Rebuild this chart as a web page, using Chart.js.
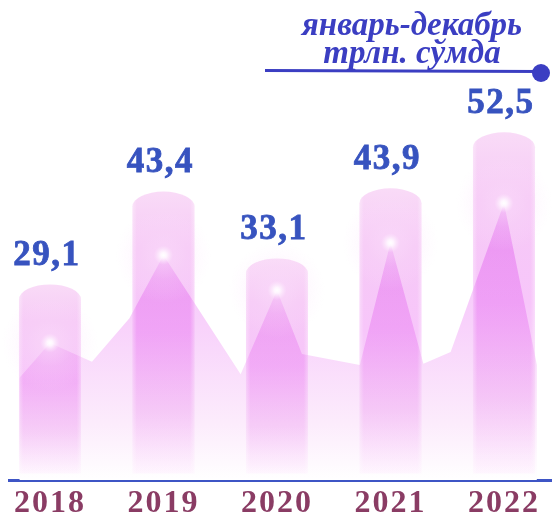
<!DOCTYPE html>
<html>
<head>
<meta charset="utf-8">
<script src="https://cdn.jsdelivr.net/npm/chart.js@4.4.1/dist/chart.umd.min.js"></script>
<style>
  html, body { margin: 0; padding: 0; background: #fff; }
</style>
</head>
<body>
<canvas id="c" width="552" height="515"></canvas>
<script>
// data
var years = ['2018', '2019', '2020', '2021', '2022'];
var values = [29.1, 43.4, 33.1, 43.9, 52.5];
// pink "mountain" behind the bars: x in bar-index units, y in value units
var ridgeX = [-0.27, 0, 0.37, 0.70, 1, 1.68, 2, 2.22, 2.73, 3, 3.29, 3.53, 4, 4.29];
var ridgeY = [14.7, 20.1, 17.2, 23.9, 33.6, 15.3, 28.2, 18.4, 16.7, 35.5, 16.9, 18.7, 41.6, 16.7];
var titleLines = ['январь-декабрь', 'трлн. сўмда'];

function fmt(v) { return v.toFixed(1).replace('.', ','); }

// mountain fill
function ridgeFill(c) {
  var a = c.chart.chartArea;
  if (!a) return 'rgba(0,0,0,0)';
  var g = c.chart.ctx.createLinearGradient(0, 200, 0, a.bottom);
  g.addColorStop(0, '#f3bcfa');
  g.addColorStop(0.45, '#f8d2fb');
  g.addColorStop(0.8, '#fcecfc');
  g.addColorStop(1, '#ffffff');
  return g;
}

// cylinder bars, drawn from the bar elements
var cylinders = {
  id: 'cylinders',
  afterDatasetDraw: function(chart, args) {
    if (args.index !== 1) return;
    var ctx = chart.ctx;
    var meta = chart.getDatasetMeta(1);
    ctx.save();
    meta.data.forEach(function(el) {
      var p = el.getProps(['x', 'y', 'base', 'width'], true);
      var hw = p.width / 2, cap = 15;
      var l = p.x - hw, r = p.x + hw;
      ctx.beginPath();
      ctx.moveTo(l, p.base);
      ctx.lineTo(l, p.y + cap);
      ctx.ellipse(p.x, p.y + cap, hw, cap, 0, Math.PI, 2 * Math.PI);
      ctx.lineTo(r, p.base);
      ctx.closePath();
      var g = ctx.createLinearGradient(0, p.y, 0, p.base);
      g.addColorStop(0, '#f9dbf7');
      g.addColorStop(0.2, '#f6c9f6');
      g.addColorStop(0.5, '#f7c6fa');
      g.addColorStop(0.78, '#f9dcfa');
      g.addColorStop(1, '#fff8ff');
      ctx.globalCompositeOperation = 'multiply';
      ctx.fillStyle = g;
      ctx.fill();
      ctx.globalCompositeOperation = 'source-over';
      var h = ctx.createLinearGradient(l, 0, r, 0);
      h.addColorStop(0, 'rgba(255,255,255,0.35)');
      h.addColorStop(0.07, 'rgba(255,255,255,0)');
      h.addColorStop(0.93, 'rgba(255,255,255,0)');
      h.addColorStop(1, 'rgba(255,255,255,0.35)');
      ctx.fillStyle = h;
      ctx.fill();
    });
    ctx.restore();
  }
};

// soft glow at each mountain peak
var glow = {
  id: 'glow',
  afterDatasetsDraw: function(chart) {
    var ctx = chart.ctx, xs = chart.scales.x, ys = chart.scales.y;
    ctx.save();
    ridgeX.forEach(function(x, i) {
      if (x !== Math.round(x)) return;
      var px = xs.getPixelForValue(x), py = ys.getPixelForValue(ridgeY[i]);
      var g = ctx.createRadialGradient(px, py, 0, px, py, 48);
      g.addColorStop(0, 'rgba(255,255,255,1)');
      g.addColorStop(0.06, 'rgba(255,248,255,0.95)');
      g.addColorStop(0.2, 'rgba(250,218,250,0.55)');
      g.addColorStop(0.5, 'rgba(250,220,250,0.25)');
      g.addColorStop(1, 'rgba(255,230,255,0)');
      ctx.fillStyle = g;
      ctx.beginPath();
      ctx.arc(px, py, 48, 0, 2 * Math.PI);
      ctx.fill();
    });
    ctx.restore();
  }
};

// value labels above bars
var valueLabels = {
  id: 'valueLabels',
  afterDatasetsDraw: function(chart) {
    var ctx = chart.ctx;
    var meta = chart.getDatasetMeta(1);
    ctx.save();
    ctx.font = 'bold 35px "Liberation Serif"';
    ctx.letterSpacing = '1.5px';
    ctx.fillStyle = '#3753bf';
    ctx.strokeStyle = '#3753bf';
    ctx.lineWidth = 0.8;
    ctx.textAlign = 'center';
    ctx.textBaseline = 'alphabetic';
    meta.data.forEach(function(el, i) {
      ctx.fillText(fmt(values[i]), el.x - 3, el.y - 19);
      ctx.strokeText(fmt(values[i]), el.x - 3, el.y - 19);
    });
    ctx.restore();
  }
};

// unit caption top right
var caption = {
  id: 'caption',
  afterDraw: function(chart) {
    var ctx = chart.ctx;
    ctx.save();
    ctx.font = 'italic bold 33px "Liberation Serif"';
    ctx.fillStyle = '#3b3ec2';
    ctx.textAlign = 'center';
    ctx.fillText(titleLines[0], 412, 35);
    ctx.fillText(titleLines[1], 412, 63);
    ctx.strokeStyle = '#3b3ec2';
    ctx.lineWidth = 3;
    ctx.beginPath();
    ctx.moveTo(265, 70.5);
    ctx.lineTo(541, 71.5);
    ctx.stroke();
    ctx.beginPath();
    ctx.arc(541, 73, 9, 0, 2 * Math.PI);
    ctx.fill();
    ctx.restore();
  }
};

// wider spacing for the year labels
var tickSpacing = {
  id: 'tickSpacing',
  beforeDraw: function(chart) { chart.ctx.letterSpacing = '2px'; },
  beforeDatasetsDraw: function(chart) { chart.ctx.letterSpacing = '0px'; }
};

var ctx = document.getElementById('c').getContext('2d');
var chart = new Chart(ctx, {
  type: 'bar',
  data: {
    datasets: [
      {
        type: 'line',
        data: ridgeX.map(function(x, i) { return { x: x, y: ridgeY[i] }; }),
        borderWidth: 0,
        pointRadius: 0,
        tension: 0,
        fill: 'start',
        backgroundColor: ridgeFill,
        order: 2
      },
      {
        type: 'bar',
        data: values.map(function(v, i) { return { x: i, y: v }; }),
        backgroundColor: 'rgba(0,0,0,0)',
        barThickness: 62,
        order: 1
      }
    ]
  },
  options: {
    responsive: false,
    animation: false,
    layout: { padding: { left: 9, right: 0, top: 0, bottom: 0 } },
    plugins: { legend: { display: false }, tooltip: { enabled: false } },
    scales: {
      x: {
        type: 'linear',
        offset: false,
        min: -0.361,
        max: 4.423,
        grid: { display: false, drawTicks: false },
        border: { display: true, color: '#3e55c5', width: 3 },
        afterBuildTicks: function(s) { s.ticks = years.map(function(y, i) { return { value: i }; }); },
        afterFit: function(s) { s.height = 35; },
        ticks: {
          padding: 5,
          color: '#8a3c64',
          maxRotation: 0,
          autoSkip: false,
          font: { family: '"Liberation Serif"', size: 32, weight: 'bold' },
          callback: function(v) { return years[v]; }
        }
      },
      y: { display: false, min: -0.985, max: 72.86 }
    }
  },
  plugins: [tickSpacing, cylinders, glow, valueLabels, caption]
});
</script>
</body>
</html>
